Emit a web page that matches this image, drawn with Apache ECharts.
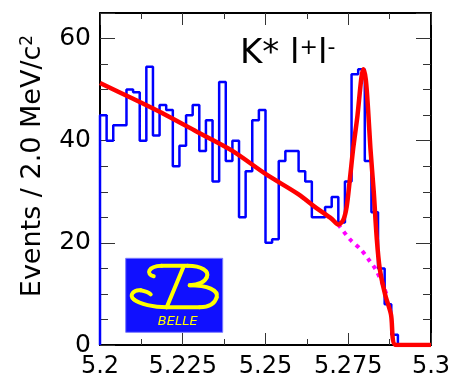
<!DOCTYPE html>
<html><head><meta charset="utf-8">
<script src="https://cdn.jsdelivr.net/npm/echarts@6/dist/echarts.min.js"></script>
<style>html,body{margin:0;padding:0;background:#fff}#c{width:455px;height:386px}</style>
</head><body><div id="c"></div>
<script>
// ---- data ----
const binStart = 5.2;
const binWidth = 0.002;
const counts = [45,40,43,43,50,49.5,40,54.5,41,47,46,35,39,45,47,38,44,32,51.5,36,40,25,34,44,46,20,20.7,36,38,38,34,32,25,25,27,29,24,32,53,54,36,26,15,8,2,0,0,0,0,0];
const fitX = [5.200,5.210,5.220,5.230,5.240,5.250,5.260,5.265,5.270,5.272,5.2735,5.2745,5.2755,5.2765,5.2778,5.2790,5.2796,5.2803,5.2810,5.2817,5.2827,5.2836,5.2845,5.2861,5.2879,5.2894,5.300];
const fitY = [51.3,48.2,45.0,41.5,38.0,33.5,29.5,27.0,24.7,23.6,24.5,27.0,32.5,38.5,45.0,52.5,54.0,52.0,46.0,38.5,30.0,21.0,15.0,10.0,6.0,0,0];
const bkgX = [5.2720,5.2755,5.2788,5.2812,5.2833,5.2854,5.2869];
const bkgY = [23.6,20.7,18.7,16.7,14.8,11.9,9.3];
const xTickLabels = ['5.2','5.225','5.25','5.275','5.3'];
const yTickLabels = ['0','20','40','60'];

// ---- build series data ----
const histData = [[binStart, 0]];
counts.forEach((v, i) => {
  const a = +(binStart + i * binWidth).toFixed(4);
  const b = +(binStart + (i + 1) * binWidth).toFixed(4);
  histData.push([a, v]); histData.push([b, v]);
});
histData.push([+(binStart + counts.length * binWidth).toFixed(4), 0]);
const fitData = fitX.map((x, i) => [x, fitY[i]]);
const bkgData = bkgX.map((x, i) => [x, bkgY[i]]);

const FONT = 'DejaVu Sans';
const labelFrom = (list) => (v) => list.find(t => Math.abs(parseFloat(t) - v) < 1e-6) || '';

const frame = {color: '#000', width: 2};
const tickStyle = {color: '#333', width: 1};
function xAx(pos, labels) {
  return {
    type: 'value', min: 5.2, max: 5.3, interval: 0.025, position: pos,
    axisLine: {show: true, onZero: false, lineStyle: frame},
    axisTick: {show: true, inside: true, length: 12, lineStyle: tickStyle},
    minorTick: {show: true, splitNumber: 2, length: 6, lineStyle: tickStyle},
    splitLine: {show: false}, minorSplitLine: {show: false},
    axisLabel: labels ? {show: true, formatter: labelFrom(xTickLabels), fontSize: 24, fontFamily: FONT, color: '#000', margin: 10} : {show: false}
  };
}
function yAx(pos, interval, len, line, labels) {
  return {
    type: 'value', min: 0, max: 65, interval: interval, position: pos,
    axisLine: {show: line, onZero: false, lineStyle: frame},
    axisTick: {show: true, inside: true, length: len, lineStyle: tickStyle},
    splitLine: {show: false},
    axisLabel: labels ? {show: true, formatter: labelFrom(yTickLabels), fontSize: 25, fontFamily: FONT, color: '#000', margin: 9} : {show: false}
  };
}

// logo glyph strokes (local coordinates inside the logo box)
const logoCurves = [
  [28,18, 20,16, 22,8, 36,7.5],
  [62,7.5, 76,7.5, 84,13, 81,19],
  [81,19, 79,24, 72,26.5, 64,27],
  [64,27, 82,27, 93,32, 91,39],
  [91,39, 89,46, 82,49, 74,49],
  [41,49, 28,49, 14,46, 8,41],
  [8,41, 3,37, 8,31, 15,32],
  [15,32, 20,33, 23,34, 25,36]
];
const logoLines = [[36,7.5,62,7.5],[74,49,41,49],[58,8,41,49]];
const yellow = '#ffff00';
const logoChildren = [
  {type: 'rect', shape: {x: 0, y: 0, width: 97, height: 74}, style: {fill: '#1010ff', stroke: '#7a7aff', lineWidth: 1}}
];
logoCurves.forEach(c => logoChildren.push({type: 'bezierCurve',
  shape: {x1: c[0], y1: c[1], cpx1: c[2], cpy1: c[3], cpx2: c[4], cpy2: c[5], x2: c[6], y2: c[7]},
  style: {stroke: yellow, lineWidth: 4, fill: null, lineCap: 'round'}}));
logoLines.forEach(l => logoChildren.push({type: 'line',
  shape: {x1: l[0], y1: l[1], x2: l[2], y2: l[3]}, style: {stroke: yellow, lineWidth: 4, lineCap: 'round'}}));
logoChildren.push({type: 'text', x: 52, y: 63, style: {text: 'BELLE', align: 'center', verticalAlign: 'middle', fill: yellow, fontSize: 13, fontStyle: 'italic', fontFamily: FONT}});

const chart = echarts.init(document.getElementById('c'), null, {renderer: 'canvas'});
chart.setOption({
  animation: false,
  backgroundColor: '#fff',
  grid: {left: 100, right: 24, top: 13, bottom: 41, containLabel: false},
  xAxis: [xAx('bottom', true), xAx('top', false)],
  yAxis: [yAx('left', 20, 15, true, true), yAx('left', 5, 8, false, false),
          yAx('right', 20, 15, true, false), yAx('right', 5, 8, false, false)],
  series: [
    {type: 'line', data: histData, showSymbol: false, symbol: 'none',
     lineStyle: {color: '#0000ff', width: 2.5}, z: 2},
    {type: 'line', data: bkgData, showSymbol: false, symbol: 'none', smooth: 0.3,
     lineStyle: {color: '#ff00ff', width: 4, type: [4, 5]}, z: 3},
    {type: 'line', data: fitData, showSymbol: false, symbol: 'none', smooth: 0.3,
     lineStyle: {color: '#ff0000', width: 4.5}, z: 4}
  ],
  graphic: [
    {type: 'text', x: 33, y: 166, rotation: Math.PI / 2,
     style: {text: '{a|Events / 2.0 MeV/c}{s|2}', align: 'center', verticalAlign: 'middle', fill: '#000',
       rich: {a: {fontSize: 27, fontFamily: FONT, fill: '#000'}, s: {fontSize: 17, fontFamily: FONT, fill: '#000', verticalAlign: 'top'}}}},
    {type: 'text', x: 240, y: 54,
     style: {text: '{m|K* l}{s|+}{m|l}{s|-}', align: 'left', verticalAlign: 'middle', fill: '#000',
       rich: {m: {fontSize: 34, fontFamily: FONT, fill: '#000'}, s: {fontSize: 22, fontFamily: FONT, fill: '#000', verticalAlign: 'top'}}}},
    {type: 'group', x: 125.7, y: 258.3, children: logoChildren}
  ]
});
</script></body></html>
